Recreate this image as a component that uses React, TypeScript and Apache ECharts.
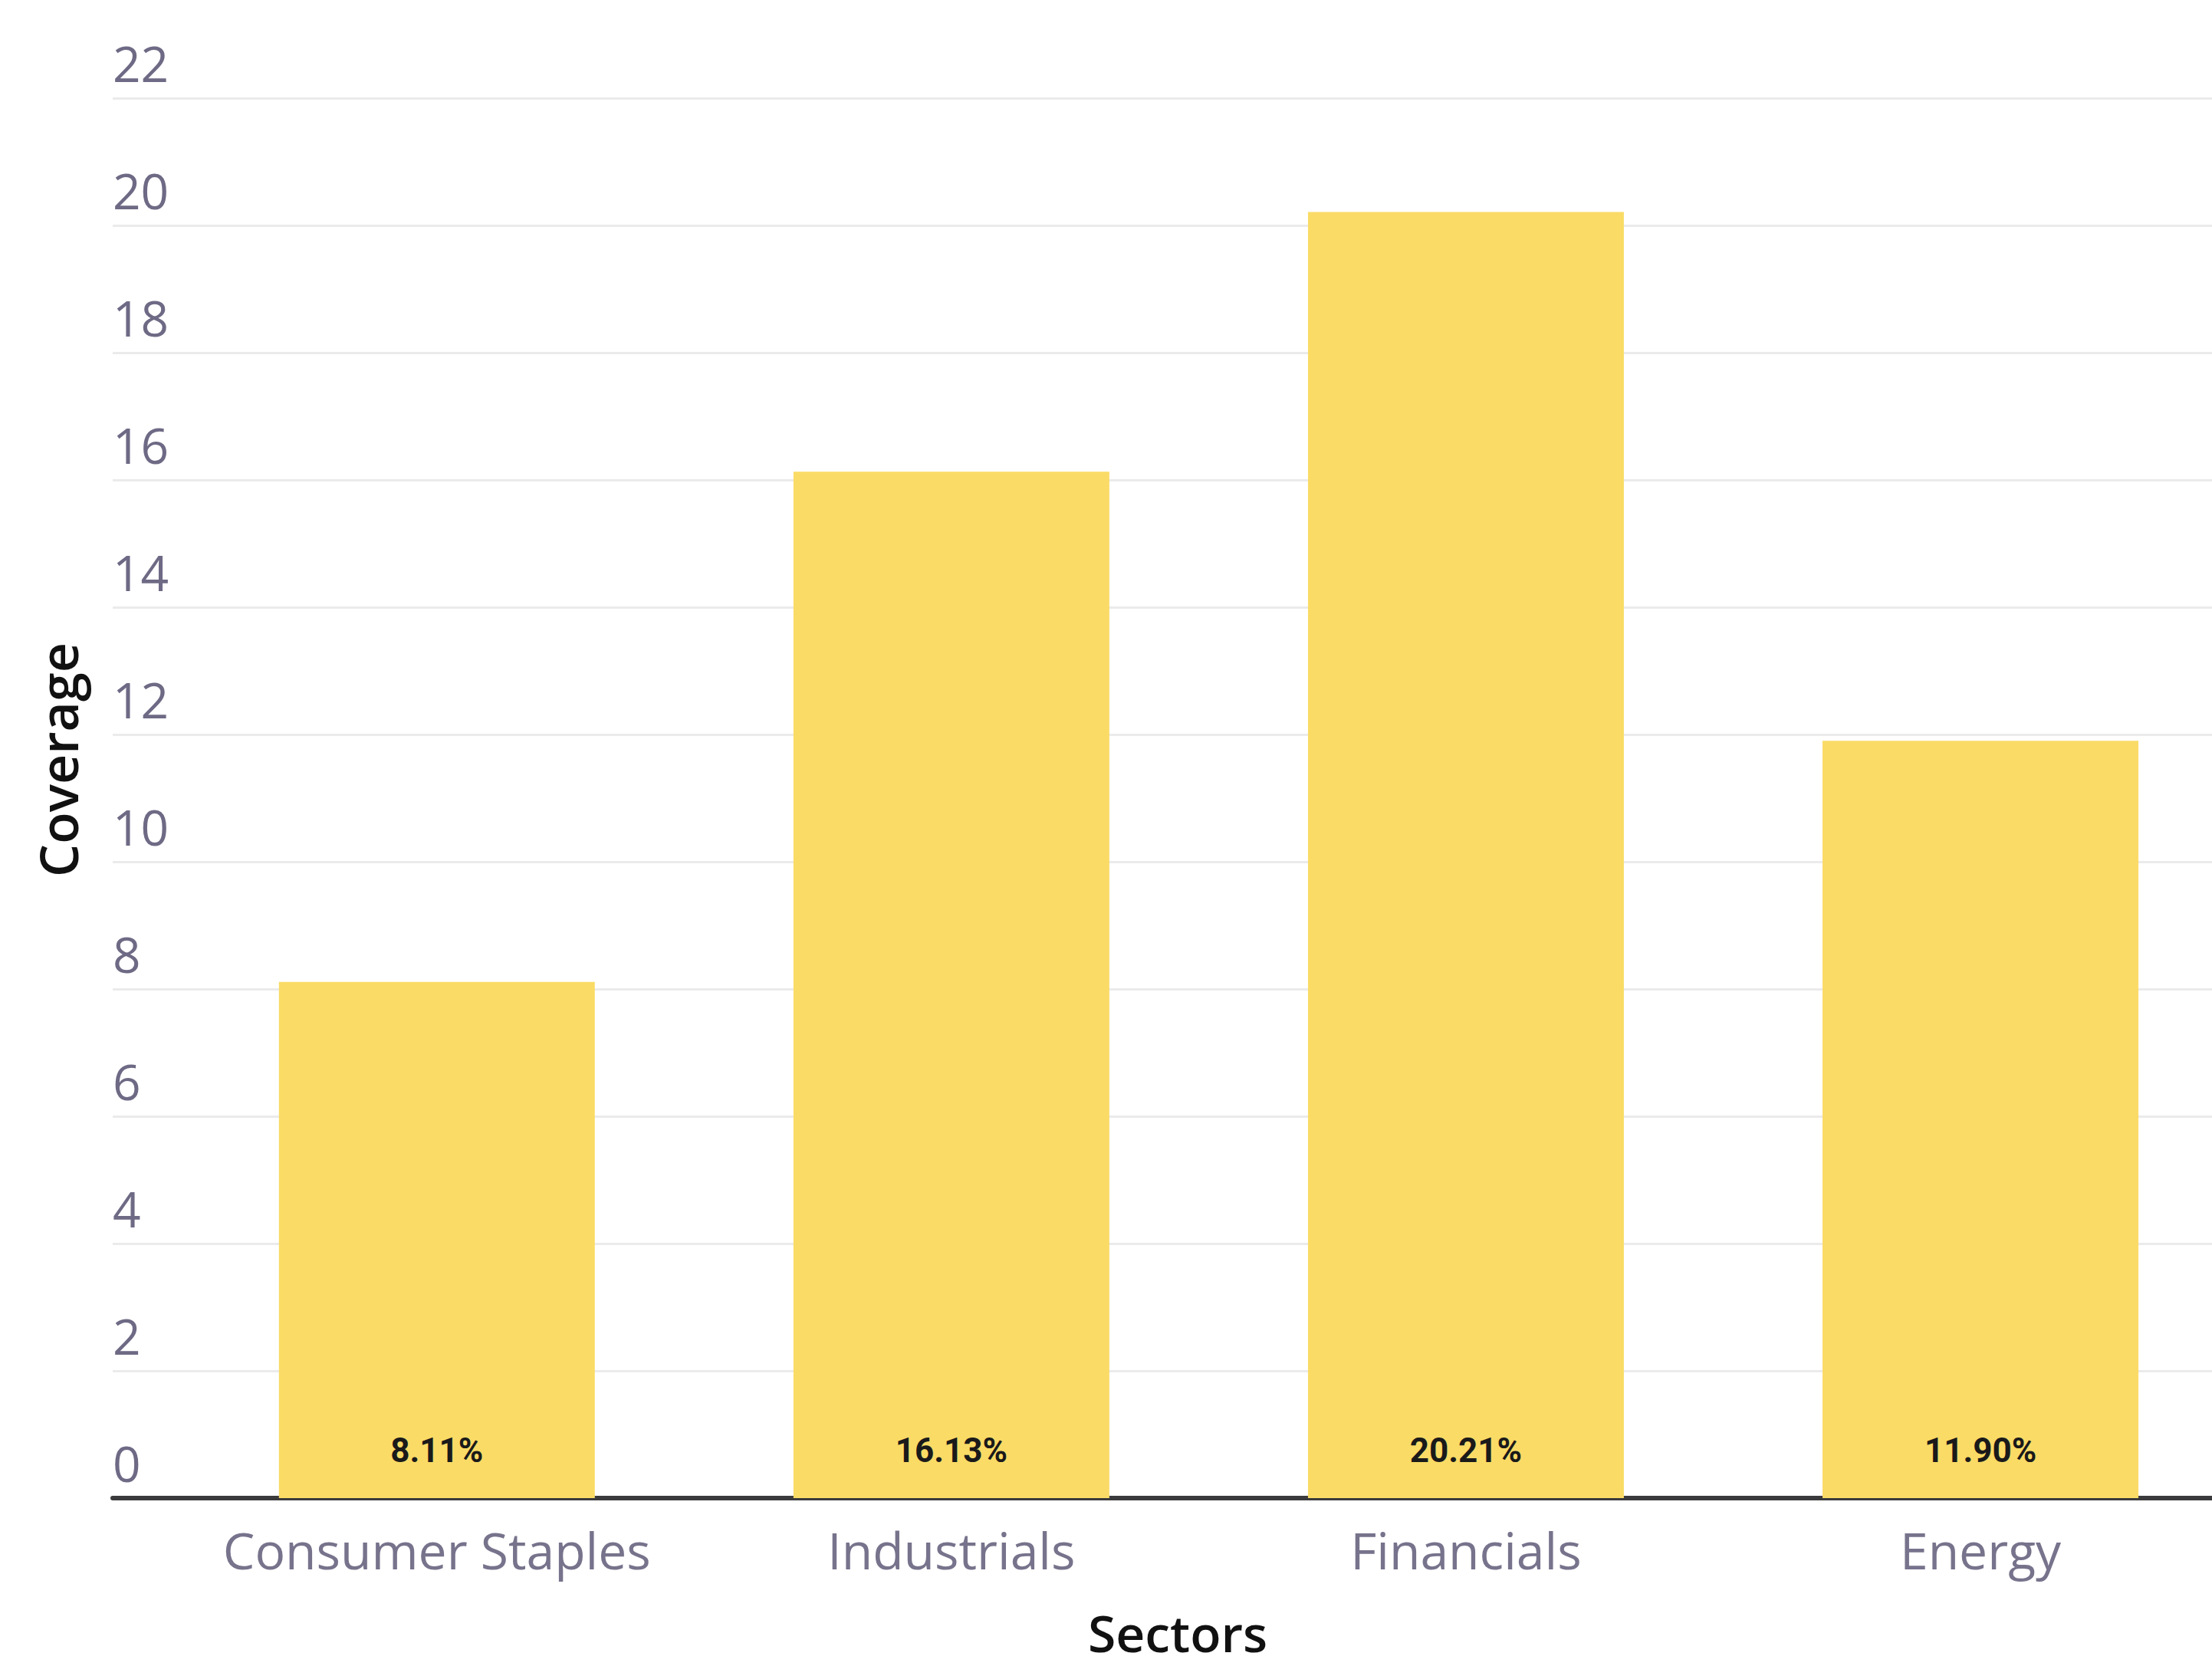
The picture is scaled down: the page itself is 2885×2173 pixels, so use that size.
import React, { useEffect, useRef } from "react";
import * as echarts from "echarts";

const categories = ["Consumer Staples", "Industrials", "Financials", "Energy"];
const coverage = [8.11, 16.13, 20.21, 11.9];
const valueLabels = ["8.11%", "16.13%", "20.21%", "11.90%"];
const yTicks = [0, 2, 4, 6, 8, 10, 12, 14, 16, 18, 20, 22];

export default function App() {
  const ref = useRef<HTMLDivElement>(null);
  useEffect(() => {
    if (!ref.current) return;
    const chart = echarts.init(ref.current, undefined, { renderer: "svg" });
    const positions = categories.map((_, i) => i);
    chart.setOption({
      animation: false,
      backgroundColor: "#ffffff",
      grid: {
        left: 147,
        right: 0,
        top: 128,
        bottom: 2173 - 1954,
        containLabel: false,
        outerBoundsMode: "none",
      },
      xAxis: {
        type: "value",
        min: -0.63,
        max: 3.45,
        name: "Sectors",
        nameLocation: "middle",
        nameGap: 142,
        nameTextStyle: {
          fontFamily: "Open Sans",
          fontSize: 66,
          lineHeight: 66,
          fontWeight: 600,
          color: "#111111",
          padding: [0, 0, 0, 40],
        },
        splitLine: { show: false },
        axisTick: { show: false },
        axisLine: { show: true, onZero: false, lineStyle: { color: "#3b3b3d", width: 6 } },
        axisLabel: {
          customValues: positions,
          formatter: (v: number) => categories[Math.round(v)] ?? "",
          fontFamily: "Open Sans",
          fontSize: 66,
          color: "#77738c",
          margin: 34,
        },
      },
      yAxis: {
        type: "value",
        min: 0,
        max: 22,
        interval: 2,
        name: "Coverage",
        nameLocation: "middle",
        nameGap: 38,
        nameRotate: 90,
        nameTextStyle: {
          fontFamily: "Open Sans",
          fontSize: 68,
          fontWeight: 600,
          color: "#111111",
          padding: [0, 0, 0, 100],
        },
        axisLine: { show: false },
        axisTick: { show: false },
        splitLine: { show: true, lineStyle: { color: "#ebebeb", width: 3 } },
        axisLabel: {
          inside: true,
          margin: 0,
          align: "left",
          verticalAlign: "bottom",
          lineHeight: 64,
          padding: [0, 0, 14, 0],
          fontFamily: "Open Sans",
          fontSize: 64,
          color: "#6e6a85",
          customValues: yTicks,
        },
      },
      series: [
        {
          type: "bar",
          barWidth: 412,
          data: coverage.map((v, i) => [positions[i], v]),
          itemStyle: { color: "#FADB66" },
          label: {
            show: true,
            position: "insideBottom",
            distance: 40,
            formatter: (p: any) => valueLabels[p.dataIndex],
            fontFamily: "Roboto",
            fontWeight: 700,
            fontSize: 44,
            color: "#1a1a1a",
          },
        },
      ],
    });
    return () => chart.dispose();
  }, []);
  return (
    <div
      ref={ref}
      style={{ position: "fixed", left: 0, top: 0, width: 2885, height: 2173, background: "#fff" }}
    />
  );
}
